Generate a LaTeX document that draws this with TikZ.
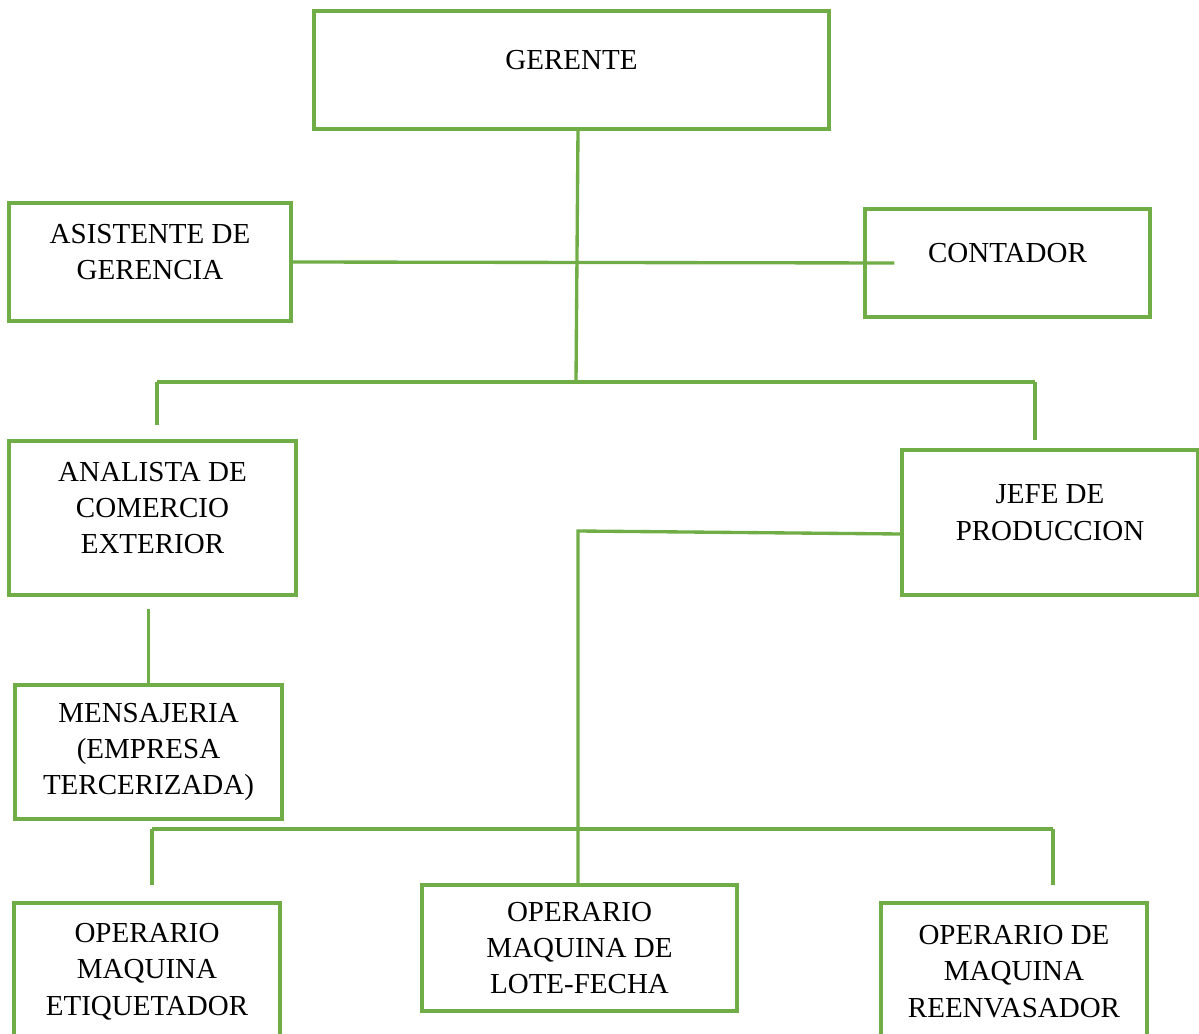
\documentclass[tikz,border=0pt]{standalone}
\usepackage{fontspec}
\setmainfont{Liberation Serif}
\usepackage{tikz}
\usetikzlibrary{calc,positioning}
\definecolor{orggreen}{RGB}{112,173,71}
\tikzstyle{block} = [rectangle, draw=orggreen, line width=1.9pt, align=center,
    inner sep=0pt, font=\fontsize{16.5}{20.7}\selectfont]
\tikzstyle{raised} = [text depth=0.4cm]
\tikzstyle{line} = [draw=orggreen, line width=1.9pt]

\begin{document}
\begin{tikzpicture}
    \useasboundingbox (0,0) rectangle (23.98,-20.68);
    % Place nodes
    \node [block, raised, minimum width=10.3cm, minimum height=2.36cm] (gerente) at (11.43,-1.40) {GERENTE};
    \node [block, raised, minimum width=5.64cm, minimum height=2.36cm] (asistente) at (3.00,-5.24) {ASISTENTE DE\\GERENCIA};
    \node [block, raised, minimum width=5.70cm, minimum height=2.16cm] (contador) at (20.15,-5.26) {CONTADOR};
    \node [block, raised, minimum width=5.74cm, minimum height=3.08cm] (analista) at (3.05,-10.36) {ANALISTA DE\\COMERCIO\\EXTERIOR};
    \node [block, raised, minimum width=5.92cm, minimum height=2.90cm] (jefe) at (21.00,-10.45) {JEFE DE\\PRODUCCION};
    \node [block, minimum width=5.34cm, minimum height=2.68cm] (mensajeria) at (2.97,-15.04) {MENSAJERIA\\(EMPRESA\\TERCERIZADA)};
    \node [block, minimum width=5.32cm, minimum height=2.74cm] (etiquetador) at (2.94,-19.43) {OPERARIO\\MAQUINA\\ETIQUETADOR};
    \node [block, minimum width=6.30cm, minimum height=2.52cm] (lotefecha) at (11.59,-18.96) {OPERARIO\\MAQUINA DE\\LOTE-FECHA};
    \node [block, minimum width=5.32cm, minimum height=2.74cm] (reenvasador) at (20.28,-19.43) {OPERARIO DE\\MAQUINA\\REENVASADOR};
    % Junctions
    \coordinate (top) at (11.56,-2.60);
    \coordinate (mid) at (11.52,-7.64);
    \coordinate (midleft) at (3.14,-7.64);
    \coordinate (midright) at (20.70,-7.64);
    \coordinate (jefejoin) at (11.56,-10.62);
    \coordinate (lowleft) at (3.04,-16.58);
    \coordinate (lowright) at (21.06,-16.58);
    % Draw edges
    \path [line] (top) -- (mid);
    \path [line] (asistente.east) -- ([xshift=0.62cm]contador.west);
    \path [line] (midleft) -- (midright);
    \path [line] (midleft) -- ([yshift=0.28cm]analista.north -| midleft);
    \path [line] (midright) -- ([yshift=0.16cm]jefe.north -| midright);
    \path [line] ([yshift=-0.23cm]jefe.west) -- (jefejoin) -- (jefejoin |- lotefecha.north);
    \path [line] ([yshift=-0.24cm]analista.south -| mensajeria.north) -- (mensajeria.north);
    \path [line] (lowleft) -- (lowright);
    \path [line] (lowleft) -- ([yshift=0.32cm]etiquetador.north -| lowleft);
    \path [line] (lowright) -- ([yshift=0.32cm]reenvasador.north -| lowright);
\end{tikzpicture}
\end{document}
